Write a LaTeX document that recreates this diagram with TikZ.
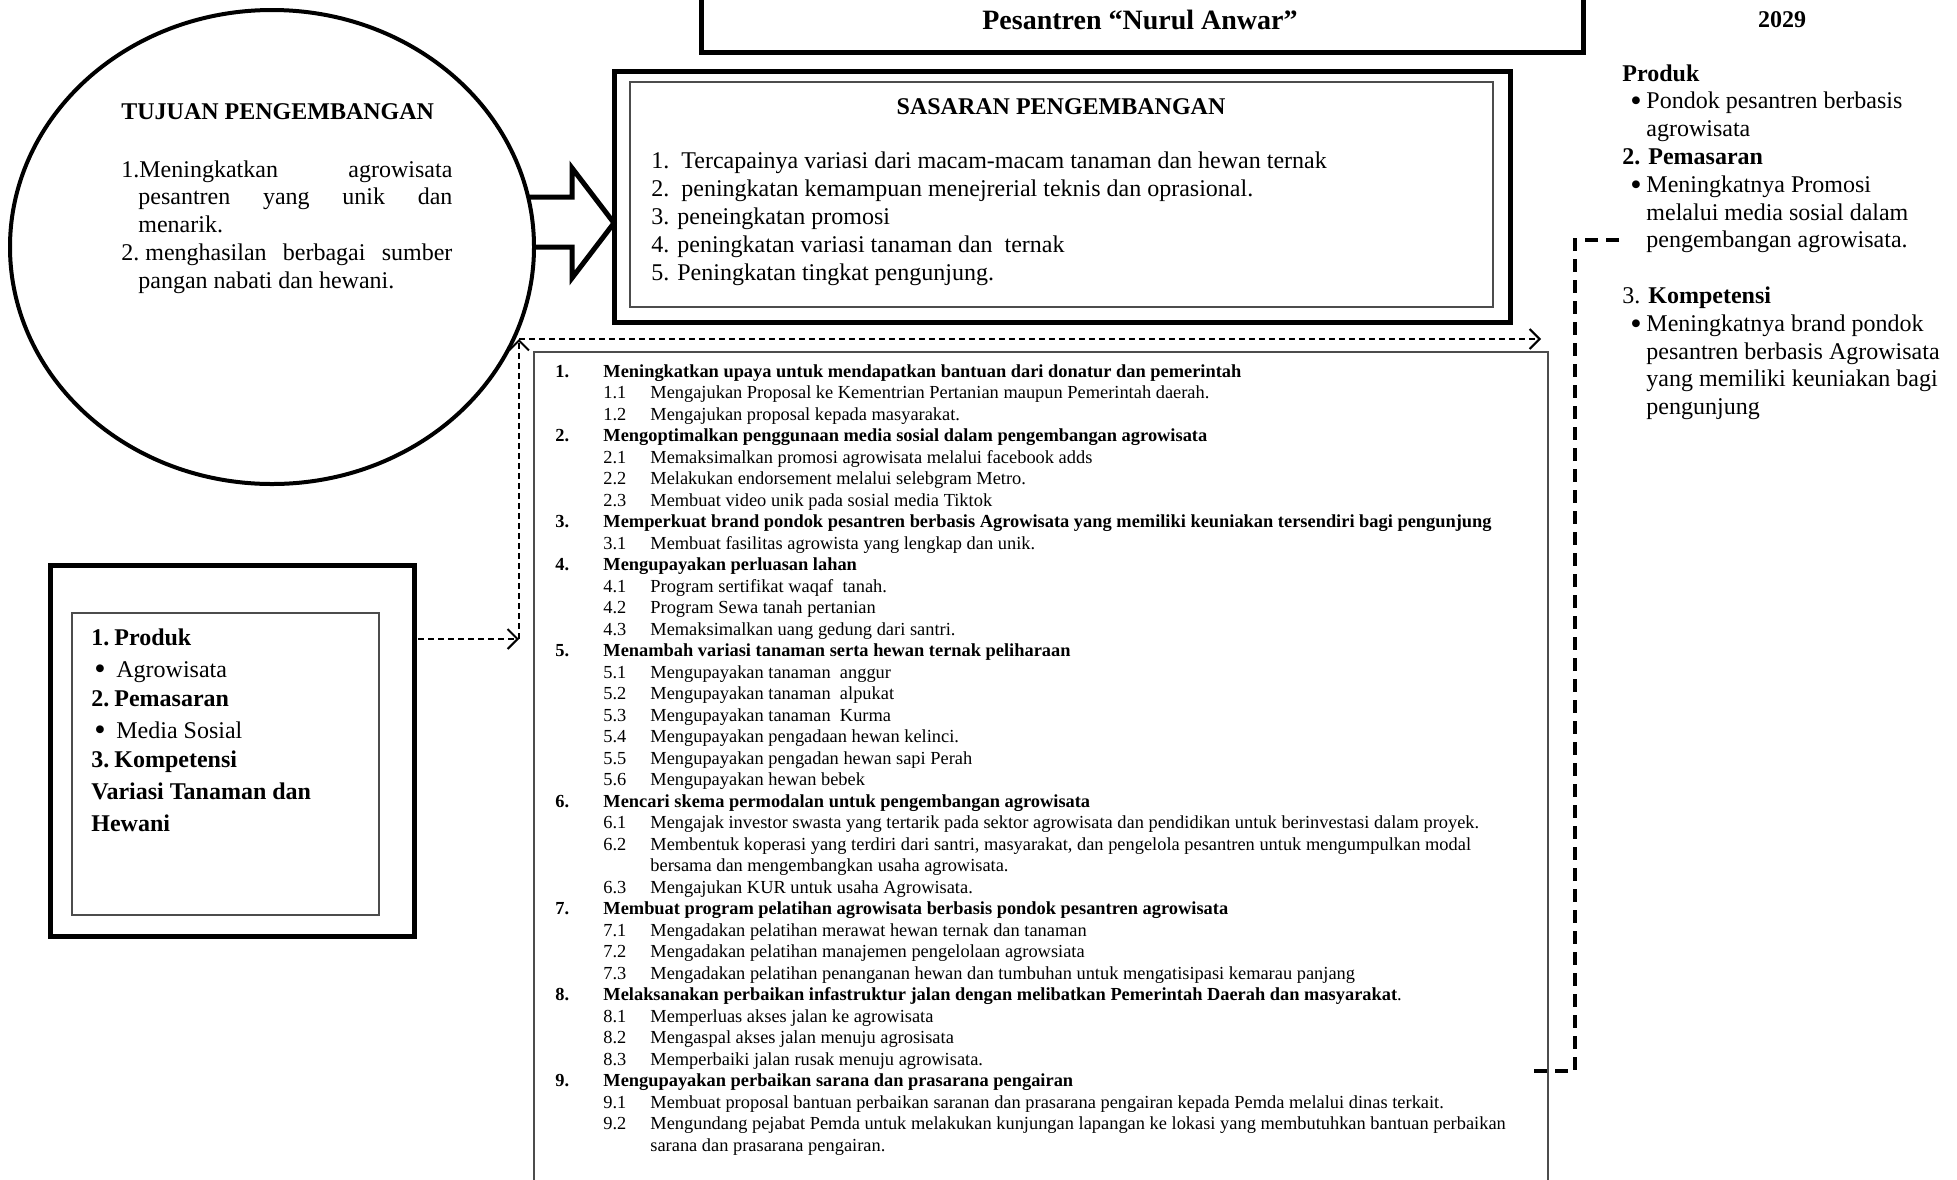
\documentclass[tikz,border=0pt]{standalone}
\usepackage{fontspec}
\usepackage{graphicx}
\setmainfont{Liberation Serif}
\usetikzlibrary{arrows.meta}
\newcommand{\titik}{\raisebox{-0.12em}{\scalebox{1.35}{\textbullet}}}

\begin{document}
\begin{tikzpicture}[x=0.5pt,y=-0.5pt,font=\fontsize{12}{13.9}\selectfont,
  every node/.style={inner sep=0pt},
  tebal/.style={line width=2.5pt},
  tipis/.style={line width=0.6pt,draw=black!70},
  putus/.style={line width=1pt,dash pattern=on 3pt off 2pt,-{Straight Barb[length=5pt,width=10pt]}},
  putustebal/.style={line width=2pt,dash pattern=on 6.5pt off 4pt}]
\useasboundingbox (0,0) rectangle (1957,1179);

% judul
\draw[tebal] (701,-40) rectangle (1583,52);
\node[anchor=base] (judul) at (1140,29) {\fontsize{14}{16}\selectfont\bfseries Pesantren “Nurul Anwar”};
\node[anchor=base] (tahun) at (1782,27) {\textbf{2029}};

% tujuan
\coordinate (tujuan) at (272,247);
\draw[line width=2pt] (tujuan) ellipse [x radius=262, y radius=237];
\node[anchor=base west] (tujuanjudul) at (121,119) {\textbf{TUJUAN PENGEMBANGAN}};
\node[anchor=base west] (tujuanisi) at (121,177) {\begin{tabular}[t]{@{}l@{}}
\makebox[165.5pt][s]{1.Meningkatkan agrowisata}\\
\hspace{8.5pt}\makebox[157pt][s]{pesantren yang unik dan}\\
\hspace{8.5pt}menarik.\\
\makebox[165.5pt][s]{2.\hspace{3pt}menghasilan berbagai sumber}\\
\hspace{8.5pt}pangan nabati dan hewani.
\end{tabular}};

% panah besar
\draw[tebal,line join=miter] (528,197) -- (572,197) -- (572,168) -- (614,223)
  -- (572,278) -- (572,247) -- (534,247);

% sasaran
\draw[tebal] (614,71) rectangle (1510,322);
\draw[tipis] (630,82) rectangle (1493,307);
\node[anchor=base] (sasaran) at (1061,114) {\textbf{SASARAN PENGEMBANGAN}};
\node[anchor=base west] (sasaranisi) at (651,168) {\fontsize{12}{14}\selectfont
\begin{tabular}[t]{@{}l@{}}
1.\ \ Tercapainya variasi dari macam-macam tanaman dan hewan ternak\\
2.\ \ peningkatan kemampuan menejrerial teknis dan oprasional.\\
3. peneingkatan promosi\\
4. peningkatan variasi tanaman dan\ \ ternak\\
5. Peningkatan tingkat pengunjung.
\end{tabular}};

% hasil 2029
\node[anchor=base west] (hasil) at (1622,81) {\begin{tabular}[t]{@{}l@{}}
\textbf{Produk}\\
\hspace{4pt}\makebox[8pt][l]{\titik}Pondok pesantren berbasis\\
\hspace{12pt}agrowisata\\
\textbf{2. Pemasaran}\\
\hspace{4pt}\makebox[8pt][l]{\titik}Meningkatnya Promosi\\
\hspace{12pt}melalui media sosial dalam\\
\hspace{12pt}pengembangan agrowisata.\\
\\
3. \textbf{Kompetensi}\\
\hspace{4pt}\makebox[8pt][l]{\titik}Meningkatnya brand pondok\\
\hspace{12pt}pesantren berbasis Agrowisata\\
\hspace{12pt}yang memiliki keuniakan bagi\\
\hspace{12pt}pengunjung
\end{tabular}};

% strategi
\draw[tebal] (50,565) rectangle (414,936);
\draw[tipis] (72,613) rectangle (379,915);
\node[anchor=base west] (strategi) at (91,645) {\fontsize{12}{14.5}\selectfont
\begin{tabular}[t]{@{}l@{}}
\textbf{\makebox[11.5pt][l]{1.}Produk}\\[1.5pt]
\hspace{1.5pt}\makebox[11pt][l]{\titik}Agrowisata\\
\textbf{\makebox[11.5pt][l]{2.}Pemasaran}\\[1.5pt]
\hspace{1.5pt}\makebox[11pt][l]{\titik}Media Sosial\\
\textbf{\makebox[11.5pt][l]{3.}Kompetensi}\\[1.5pt]
\textbf{Variasi Tanaman dan}\\[1.5pt]
\textbf{Hewani}
\end{tabular}};

% program
\draw[tipis] (534,1200) -- (534,352) -- (1548,352) -- (1548,1200);
\node[anchor=base west] (program) at (555,377) {\fontsize{9.2}{10.75}\selectfont
\begin{tabular}[t]{@{}p{24pt}@{}p{23.5pt}@{}l@{}}
\textbf{1.} & \multicolumn{2}{@{}l@{}}{\textbf{Meningkatkan upaya untuk mendapatkan bantuan dari donatur dan pemerintah}}\\
& 1.1 & Mengajukan Proposal ke Kementrian Pertanian maupun Pemerintah daerah.\\
& 1.2 & Mengajukan proposal kepada masyarakat.\\
\textbf{2.} & \multicolumn{2}{@{}l@{}}{\textbf{Mengoptimalkan penggunaan media sosial dalam pengembangan agrowisata}}\\
& 2.1 & Memaksimalkan promosi agrowisata melalui facebook adds\\
& 2.2 & Melakukan endorsement melalui selebgram Metro.\\
& 2.3 & Membuat video unik pada sosial media Tiktok\\
\textbf{3.} & \multicolumn{2}{@{}l@{}}{\textbf{Memperkuat brand pondok pesantren berbasis Agrowisata yang memiliki keuniakan tersendiri bagi pengunjung}}\\
& 3.1 & Membuat fasilitas agrowista yang lengkap dan unik.\\
\textbf{4.} & \multicolumn{2}{@{}l@{}}{\textbf{Mengupayakan perluasan lahan}}\\
& 4.1 & Program sertifikat waqaf\ \ tanah.\\
& 4.2 & Program Sewa tanah pertanian\\
& 4.3 & Memaksimalkan uang gedung dari santri.\\
\textbf{5.} & \multicolumn{2}{@{}l@{}}{\textbf{Menambah variasi tanaman serta hewan ternak peliharaan}}\\
& 5.1 & Mengupayakan tanaman\ \ anggur\\
& 5.2 & Mengupayakan tanaman\ \ alpukat\\
& 5.3 & Mengupayakan tanaman\ \ Kurma\\
& 5.4 & Mengupayakan pengadaan hewan kelinci.\\
& 5.5 & Mengupayakan pengadan hewan sapi Perah\\
& 5.6 & Mengupayakan hewan bebek\\
\textbf{6.} & \multicolumn{2}{@{}l@{}}{\textbf{Mencari skema permodalan untuk pengembangan agrowisata}}\\
& 6.1 & Mengajak investor swasta yang tertarik pada sektor agrowisata dan pendidikan untuk berinvestasi dalam proyek.\\
& 6.2 & Membentuk koperasi yang terdiri dari santri, masyarakat, dan pengelola pesantren untuk mengumpulkan modal\\
& & bersama dan mengembangkan usaha agrowisata.\\
& 6.3 & Mengajukan KUR untuk usaha Agrowisata.\\
\textbf{7.} & \multicolumn{2}{@{}l@{}}{\textbf{Membuat program pelatihan agrowisata berbasis pondok pesantren agrowisata}}\\
& 7.1 & Mengadakan pelatihan merawat hewan ternak dan tanaman\\
& 7.2 & Mengadakan pelatihan manajemen pengelolaan agrowsiata\\
& 7.3 & Mengadakan pelatihan penanganan hewan dan tumbuhan untuk mengatisipasi kemarau panjang\\
\textbf{8.} & \multicolumn{2}{@{}l@{}}{\textbf{Melaksanakan perbaikan infastruktur jalan dengan melibatkan Pemerintah Daerah dan masyarakat}.}\\
& 8.1 & Memperluas akses jalan ke agrowisata\\
& 8.2 & Mengaspal akses jalan menuju agrosisata\\
& 8.3 & Memperbaiki jalan rusak menuju agrowisata.\\
\textbf{9.} & \multicolumn{2}{@{}l@{}}{\textbf{Mengupayakan perbaikan sarana dan prasarana pengairan}}\\
& 9.1 & Membuat proposal bantuan perbaikan saranan dan prasarana pengairan kepada Pemda melalui dinas terkait.\\
& 9.2 & Mengundang pejabat Pemda untuk melakukan kunjungan lapangan ke lokasi yang membutuhkan bantuan perbaikan\\
& & sarana dan prasarana pengairan.
\end{tabular}};

% penghubung
\coordinate (kiri) at (418,639);
\coordinate (siku) at (519,639);
\coordinate (sikuatas) at (519,339);
\coordinate (ujung) at (1541,339);
\draw[putus] (kiri) -- (siku);
\draw[putus] (siku) -- (sikuatas);
\draw[putus] (sikuatas) -- (ujung);

\coordinate (k1) at (1619,240);
\coordinate (k2) at (1575,240);
\coordinate (k3) at (1575,1071);
\coordinate (k4) at (1529,1071);
\draw[putustebal] (k1) -- (k2) -- (k3) -- (k4);

\end{tikzpicture}
\end{document}
